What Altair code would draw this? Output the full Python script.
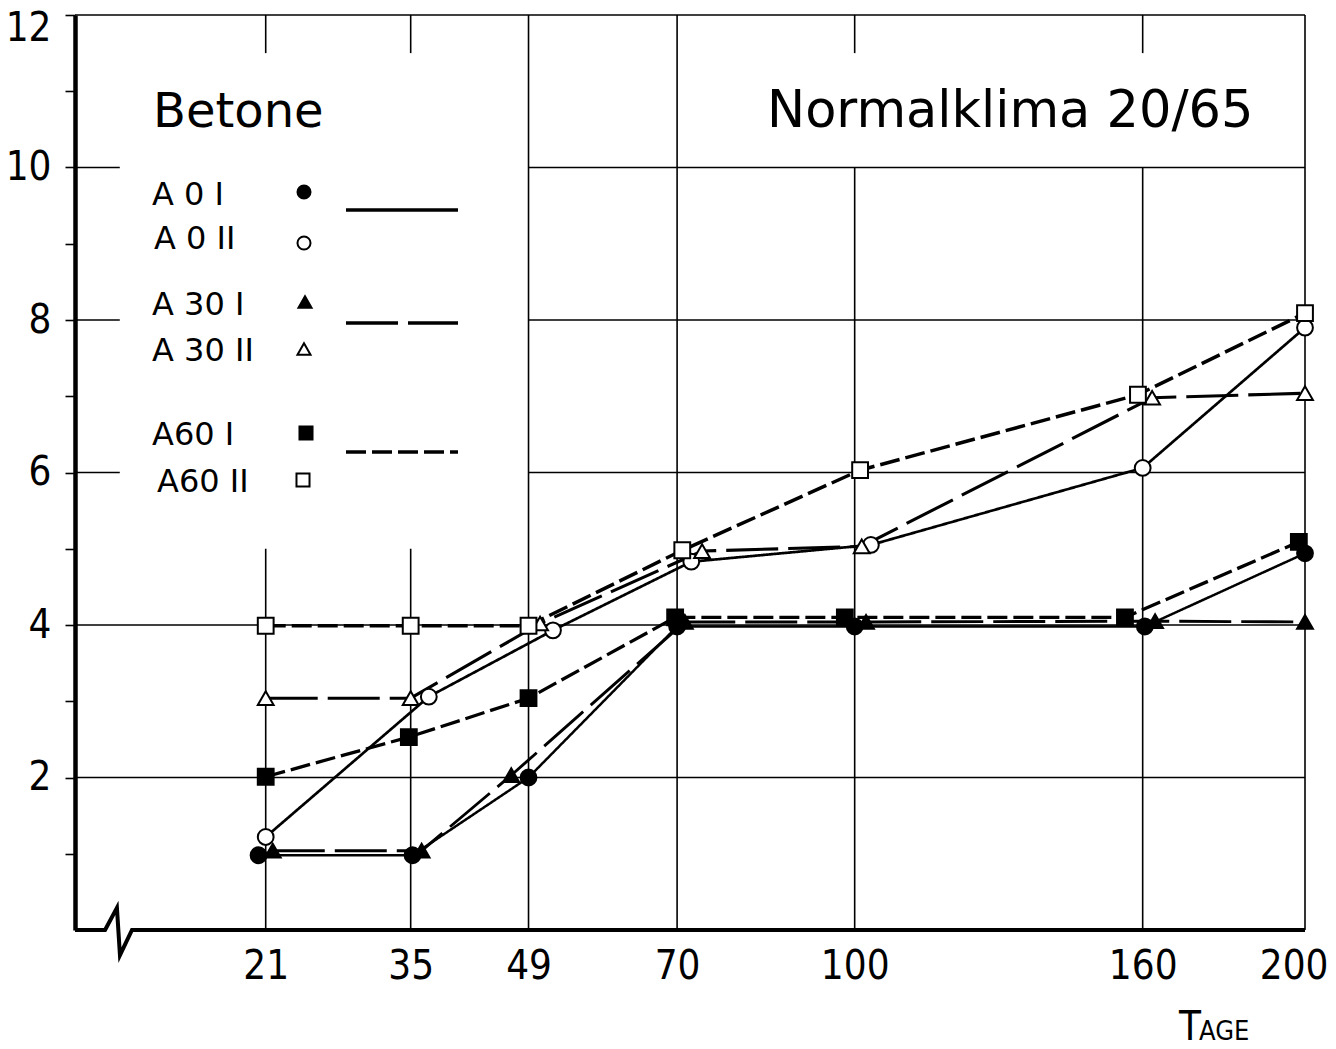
import altair as alt
import pandas as pd

# ---------------- data ----------------
series_names = ["A 0 I", "A 0 II", "A 30 I", "A 30 II", "A60 I", "A60 II"]

days_a0_1 = [20.4, 35.2, 49.0, 70.0, 100.0, 160.5, 200.0]
vals_a0_1 = [0.98, 0.98, 2.0, 3.98, 3.98, 3.98, 4.94]

days_a0_2 = [21.0, 37.0, 52.2, 72.2, 103.0, 160.0, 200.0]
vals_a0_2 = [1.22, 3.06, 3.93, 4.83, 5.05, 6.06, 7.9]

days_a30_1 = [21.6, 36.2, 46.8, 71.2, 102.1, 162.9, 200.0]
vals_a30_1 = [1.04, 1.04, 2.03, 4.04, 4.04, 4.05, 4.04]

days_a30_2 = [21.0, 35.0, 50.5, 73.9, 101.3, 162.2, 200.0]
vals_a30_2 = [3.04, 3.04, 4.02, 4.97, 5.03, 6.98, 7.04]

days_a60_1 = [21.0, 34.8, 49.0, 69.7, 98.2, 155.9, 198.4]
vals_a60_1 = [2.01, 2.53, 3.04, 4.1, 4.1, 4.1, 5.09]

days_a60_2 = [21.0, 35.0, 49.0, 70.8, 101.0, 158.9, 200.0]
vals_a60_2 = [3.99, 3.99, 3.99, 4.98, 6.03, 7.02, 8.09]

x_ticks = [21, 35, 49, 70, 100, 160, 200]
y_ticks = [1, 2, 3, 4, 5, 6, 7, 8, 9, 10, 11, 12]

# grid segments (data units)
v_grid_x = [21, 21, 35, 35, 49, 70, 100, 100, 160, 160, 200]
v_grid_y1 = [0, 11.5, 0, 11.5, 0, 0, 0, 11.5, 0, 11.5, 0]
v_grid_y2 = [5, 12, 5, 12, 12, 12, 10, 12, 10, 12, 12]

h_grid_y = [12, 10, 10, 8, 8, 6, 6, 4, 2]
h_grid_x1 = [8, 8, 49, 8, 49, 8, 49, 8, 8]
h_grid_x2 = [200, 10.5, 200, 10.5, 200, 10.5, 200, 200, 200]

# x axis line with break symbol (data units)
axis_x = [8, 9.64, 10.33, 10.51, 11.24, 200]
axis_y = [0, 0, 0.29, -0.33, 0, 0]

# ---------------- tables ----------------
all_days = [days_a0_1, days_a0_2, days_a30_1, days_a30_2, days_a60_1, days_a60_2]
all_vals = [vals_a0_1, vals_a0_2, vals_a30_1, vals_a30_2, vals_a60_1, vals_a60_2]
rows = []
for name, ds, vs in zip(series_names, all_days, all_vals):
    for d, v in zip(ds, vs):
        rows.append({"series": name, "day": d, "value": v})
df = pd.DataFrame(rows)

vgrid = pd.DataFrame({"x": v_grid_x, "y1": v_grid_y1, "y2": v_grid_y2})
hgrid = pd.DataFrame({"y": h_grid_y, "x1": h_grid_x1, "x2": h_grid_x2})
axis_df = pd.DataFrame({"x": axis_x, "y": axis_y, "i": list(range(len(axis_x)))})

# ---------------- styles ----------------
NUM_FONT = "Liberation Sans Narrow, DejaVu Sans Condensed, Liberation Sans, sans-serif"
TXT_FONT = "DejaVu Sans, Liberation Sans, sans-serif"

shape_range = ["circle", "circle", "triangle-up", "triangle-up", "square", "square"]
fill_range = ["black", "white", "black", "white", "black", "white"]
size_range = [250, 250, 270, 270, 240, 240]
dash_range = [[1, 0], [1, 0], [52, 10], [52, 10], [20, 6], [20, 6]]
width_range = [2.5, 3.5, 3.0, 3.5, 3.2, 3.5]

xs = alt.Scale(type="sqrt", domain=[8, 200], nice=False, zero=False)
ys = alt.Scale(domain=[0, 12], nice=False, zero=False)

AX_X = alt.Axis(
    values=x_ticks, domain=False, ticks=False, tickSize=0, grid=False,
    labelFont=NUM_FONT, labelFontSize=40, labelColor="black",
    labelPadding=16, labelFlush=True, labelFlushOffset=23,
    labelOverlap=False, title=None,
)
AX_Y = alt.Axis(
    values=y_ticks, grid=False, domain=True, domainColor="black", domainWidth=4.5,
    ticks=True, tickSize=10, tickWidth=1.6, tickColor="black",
    labelExpr="datum.value % 2 == 0 ? datum.label : ''",
    labelFont=NUM_FONT, labelFontSize=40, labelColor="black",
    labelPadding=14, labelFlush=True, labelFlushOffset=7,
    labelOverlap=False, title=None,
)

# ---------------- layers ----------------
vlines = alt.Chart(vgrid).mark_rule(color="black", strokeWidth=1.6).encode(
    x=alt.X("x:Q", scale=xs, axis=AX_X),
    y=alt.Y("y1:Q", scale=ys, axis=AX_Y),
    y2="y2:Q",
)
hlines = alt.Chart(hgrid).mark_rule(color="black", strokeWidth=1.6).encode(
    y=alt.Y("y:Q", scale=ys, axis=AX_Y),
    x=alt.X("x1:Q", scale=xs, axis=AX_X),
    x2="x2:Q",
)
xaxis_line = alt.Chart(axis_df).mark_line(color="black", strokeWidth=4, strokeJoin="miter").encode(
    x=alt.X("x:Q", scale=xs, axis=AX_X),
    y=alt.Y("y:Q", scale=ys, axis=AX_Y),
    order="i:O",
)

lines = alt.Chart(df).mark_line(color="black").encode(
    x=alt.X("day:Q", scale=xs, axis=AX_X),
    y=alt.Y("value:Q", scale=ys, axis=AX_Y),
    detail="series:N",
    strokeDash=alt.StrokeDash("series:N", scale=alt.Scale(domain=series_names, range=dash_range), legend=None),
    strokeWidth=alt.StrokeWidth("series:O", scale=alt.Scale(domain=series_names, range=width_range), legend=None),
)

points = alt.Chart(df).mark_point(filled=True, stroke="black", strokeWidth=2, opacity=1).encode(
    x=alt.X("day:Q", scale=xs, axis=AX_X),
    y=alt.Y("value:Q", scale=ys, axis=AX_Y),
    shape=alt.Shape("series:N", scale=alt.Scale(domain=series_names, range=shape_range), legend=None),
    fill=alt.Fill("series:N", scale=alt.Scale(domain=series_names, range=fill_range), legend=None),
    size=alt.Size("series:O", scale=alt.Scale(domain=series_names, range=size_range), legend=None),
)

layers = [vlines, hlines, xaxis_line, lines, points]

# ---------------- annotations (texts / legend) ----------------
def text_mark(txt, x, y, size, font=TXT_FONT, align="left"):
    return alt.Chart(pd.DataFrame({"t": [txt]})).mark_text(
        font=font, fontSize=size, align=align, baseline="alphabetic", color="black"
    ).encode(x=alt.value(x), y=alt.value(y), text="t:N")

layers.append(text_mark("Betone", 78, 112, 48))
layers.append(text_mark("Normalklima 20/65", 692, 112, 51))

legend_text_pos = [(77, 190), (79, 234), (77, 300), (77, 346), (77, 430), (82, 477)]
legend_sym_pos = [(229, 177), (229, 228), (230, 287), (229, 334), (231, 418), (228, 465)]
for i, name in enumerate(series_names):
    tx, ty = legend_text_pos[i]
    layers.append(text_mark(name, tx, ty, 32))
    sx, sy = legend_sym_pos[i]
    layers.append(
        alt.Chart(pd.DataFrame({"series": [name]})).mark_point(
            shape=shape_range[i], filled=True, fill=fill_range[i], stroke="black",
            strokeWidth=2, size=170, opacity=1,
        ).encode(x=alt.value(sx), y=alt.value(sy))
    )

legend_line_y = [195, 308, 437]
for j in range(3):
    name = series_names[2 * j + 1]
    layers.append(
        alt.Chart(pd.DataFrame({"series": [name]})).mark_rule(
            color="black", strokeWidth=3.5, strokeDash=dash_range[2 * j + 1]
        ).encode(x=alt.value(271), x2=alt.value(383), y=alt.value(legend_line_y[j]))
    )

layers.append(text_mark("T", 1104, 1025, 40, font=NUM_FONT))
layers.append(text_mark("AGE", 1124, 1025, 27, font=NUM_FONT))

chart = (
    alt.layer(*layers)
    .properties(
        width=1230,
        height=915,
        autosize=alt.AutoSizeParams(type="none"),
        padding={"left": 75, "top": 15, "right": 31, "bottom": 119},
        background="white",
    )
    .configure_view(stroke=None)
)

chart.save("out.html", embed_options={"renderer": "svg", "actions": False})
